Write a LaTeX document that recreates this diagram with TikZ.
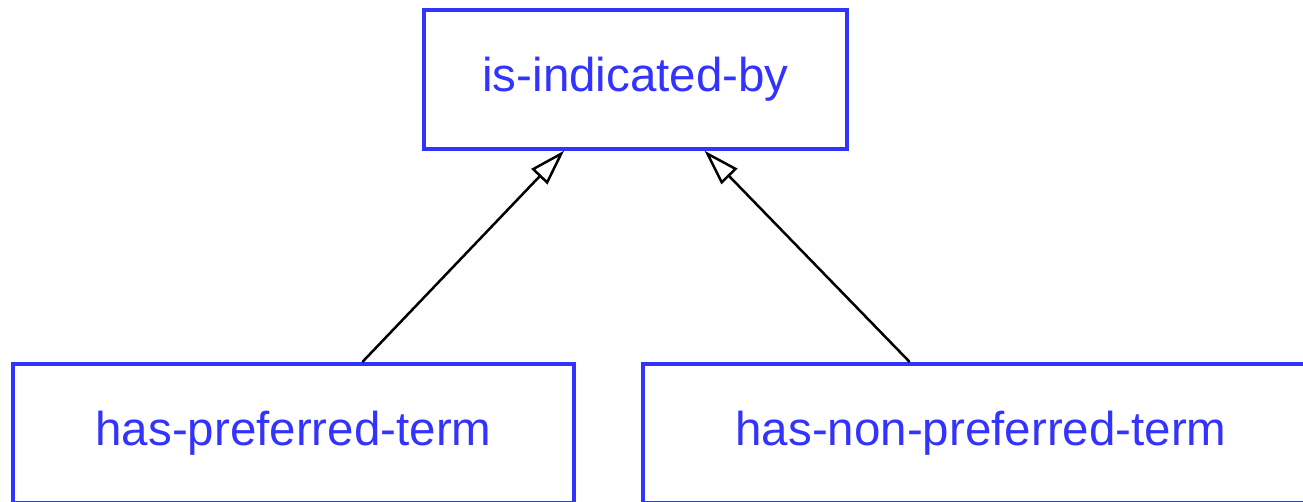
\documentclass[tikz,border=0pt]{standalone}
\usepackage{fontspec}
\setmainfont{Liberation Sans}
\usetikzlibrary{arrows.meta}
\definecolor{relblue}{RGB}{51,51,255}
\begin{document}
\begin{tikzpicture}[x=1pt, y=-1pt,
        rel/.style={draw=relblue, line width=4pt, text=relblue, minimum width=423pt,
            minimum height=138.7pt, inner sep=0pt, font=\fontsize{47.5}{50}\selectfont},
        isa/.style={-{Triangle[open, length=36pt, width=22pt]}, line width=2.5pt}]
        \path[use as bounding box, clip] (0, 0) rectangle (1303, 501);
        \node[rel] (isb) at (635.5, 79.3) {is-indicated-by};
        \node[rel, minimum width=561pt] (hpt) at (293.5, 433.3) {has-preferred-term};
        \node[rel, minimum width=676pt] (hnpt) at (981, 433.3) {has-non-preferred-term};
        \draw[isa] (hpt.46.7) -- (isb.225.6);
        \draw[isa] (hnpt.135) -- (isb.314.4);
\end{tikzpicture}
\end{document}
